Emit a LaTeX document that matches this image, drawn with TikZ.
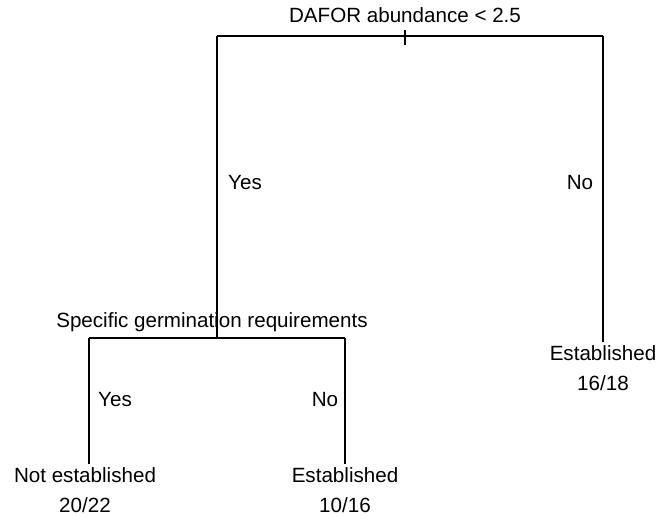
\documentclass[tikz,border=0pt]{standalone}
\usepackage{fontspec}
\setmainfont{Liberation Sans}
\usetikzlibrary{positioning}
\begin{document}
\begin{tikzpicture}[x=1pt, y=-1pt, node distance=30pt, on grid, line width=1.1pt, txt/.style={font=\fontsize{20.6}{24}\selectfont, inner sep=0pt}, leaf/.style={txt, anchor=center}]
	\useasboundingbox (0,0) rectangle (667,518);

	% splits
	\node[txt] (Q1) at (405,15) {DAFOR abundance < 2.5};
	\node[txt] (Q2) at (212,322) {Specific germination requirements};
	\coordinate (R) at (405,36);
	\coordinate (RL) at (217,36);
	\coordinate (RR) at (603,36);
	\coordinate (N) at (217,338);
	\coordinate (NL) at (89,338);
	\coordinate (NR) at (345,338);

	% leaves
	\node[leaf] (E1) at (603,353) {Established};
	\node[leaf] (C1) [below= of E1] {16/18};
	\node[leaf] (E2) at (85,475) {Not established};
	\node[leaf] (C2) [below= of E2] {20/22};
	\node[leaf] (E3) at (345,475) {Established};
	\node[leaf] (C3) [below= of E3] {10/16};

	% branch labels
	\node[txt] (Y1) at (245,183) {Yes};
	\node[txt] (N1) at (580,183) {No};
	\node[txt] (Y2) at (115,400) {Yes};
	\node[txt] (N2) at (325,400) {No};

	\draw ([yshift=6pt]R) -- ([yshift=-9pt]R);
	\draw (RL) -- (RR);
	\draw (RL) -- (N);
	\draw (RR) -- ([yshift=3pt]RR |- E1.north);
	\draw (NL) -- (NR);
	\draw (NL) -- ([yshift=3pt]NL |- E2.north);
	\draw (NR) -- ([yshift=3pt]NR |- E3.north);
\end{tikzpicture}
\end{document}
